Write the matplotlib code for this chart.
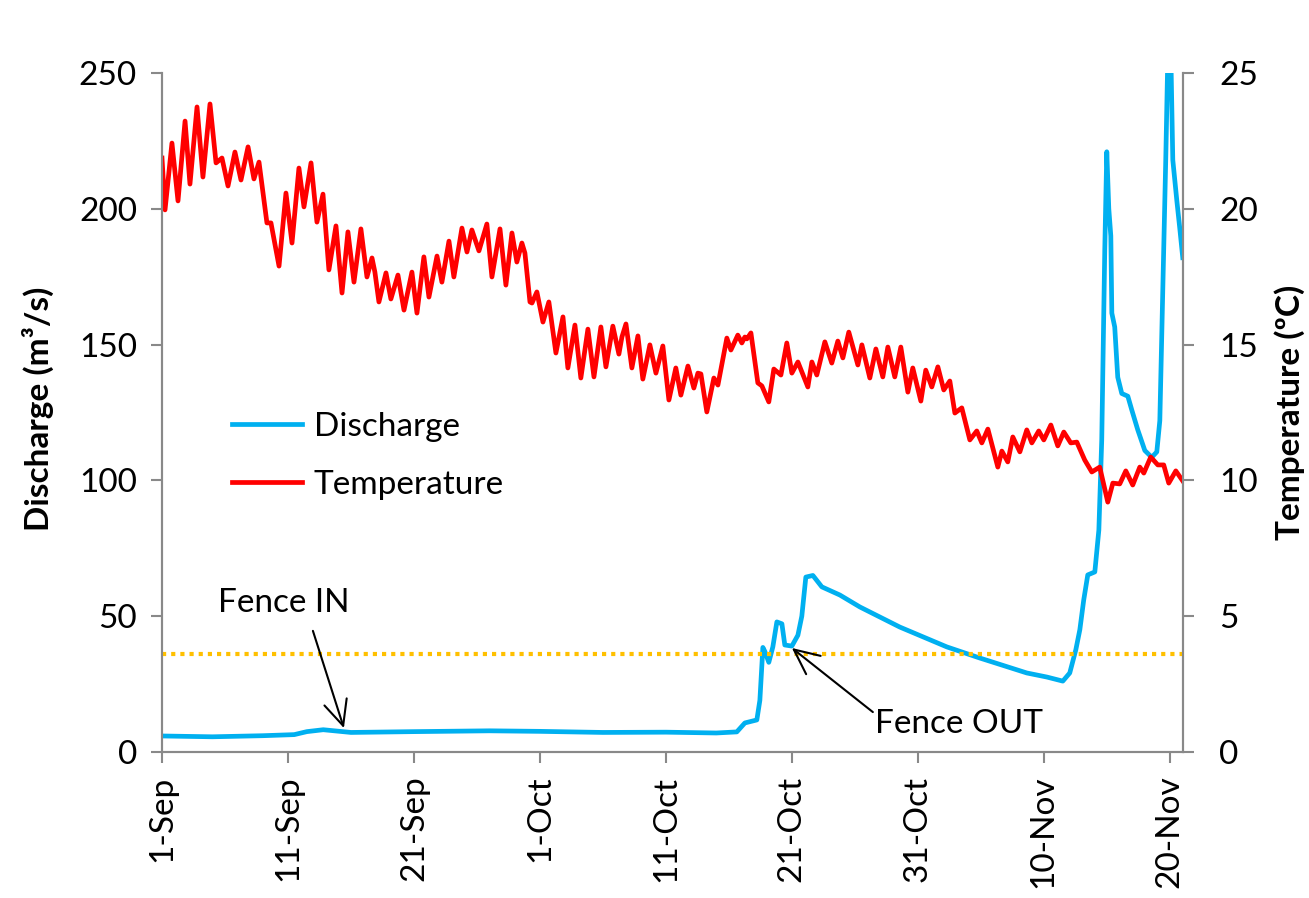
import matplotlib
matplotlib.use('Agg')
import matplotlib.pyplot as plt

# ---------------- data ----------------
tick_days = [0, 10, 20, 30, 40, 50, 60, 70, 80]
tick_labels = ['1-Sep', '11-Sep', '21-Sep', '1-Oct', '11-Oct', '21-Oct', '31-Oct', '10-Nov', '20-Nov']

# Temperature (deg C), days since 1-Sep
temp_day = [0.0, 0.24, 0.79, 1.27, 1.83, 2.22, 2.78, 3.25, 3.81, 4.29, 4.76, 5.24, 5.79, 6.27, 6.83,
            7.30, 7.70, 8.33, 8.65, 9.29, 9.84, 10.32, 10.87, 11.27, 11.83, 12.30, 12.78, 13.25, 13.81,
            14.29, 14.76, 15.24, 15.79, 16.27, 16.67, 16.90, 17.22, 17.78, 18.17, 18.73, 19.21, 19.84,
            20.24, 20.79, 21.19, 21.83, 22.22, 22.78, 23.17, 23.81, 24.21, 24.60, 25.16, 25.79, 26.19,
            26.83, 27.30, 27.78, 28.17, 28.57, 28.81, 29.21, 29.37, 29.76, 30.24, 30.71, 31.27, 31.83,
            32.22, 32.78, 33.25, 33.81, 34.29, 34.84, 35.24, 35.79, 36.27, 36.51, 36.83, 37.30, 37.78,
            38.17, 38.73, 39.21, 39.76, 40.24, 40.79, 41.19, 41.75, 42.22, 42.54, 42.78, 43.25, 43.81,
            44.13, 44.84, 45.16, 45.71, 46.03, 46.27, 46.43, 46.75, 47.30, 47.62, 48.17, 48.57, 49.13,
            49.60, 50.00, 50.48, 51.27, 51.59, 51.98, 52.62, 53.17, 53.65, 54.05, 54.52, 55.24, 55.56,
            56.19, 56.67, 57.22, 57.62, 58.17, 58.65, 59.21, 59.60, 60.24, 60.63, 61.11, 61.59, 62.06,
            62.54, 62.94, 63.49, 64.13, 64.68, 65.08, 65.56, 66.35, 66.67, 67.14, 67.54, 68.10, 68.65,
            69.05, 69.60, 70.00, 70.56, 71.11, 71.59, 72.14, 72.62, 73.25, 73.81, 74.44, 75.08, 75.48,
            76.03, 76.51, 77.06, 77.62, 77.94, 78.49, 79.05, 79.52, 79.92, 80.48, 81.03]
temp_val = [21.87, 19.96, 22.42, 20.29, 23.23, 20.91, 23.75, 21.17, 23.86, 21.69, 21.87, 20.84, 22.09,
            21.06, 22.28, 21.10, 21.72, 19.48, 19.48, 17.89, 20.58, 18.74, 21.50, 20.07, 21.69, 19.51,
            20.54, 17.75, 19.37, 16.90, 19.15, 17.30, 19.26, 17.49, 18.19, 17.67, 16.57, 17.64, 16.68,
            17.56, 16.27, 17.67, 16.16, 18.23, 16.75, 18.26, 17.30, 18.81, 17.49, 19.29, 18.41, 19.22,
            18.45, 19.44, 17.49, 19.26, 17.19, 19.11, 18.04, 18.74, 18.37, 16.57, 16.53, 16.94, 15.83,
            16.57, 14.69, 16.02, 14.14, 15.72, 13.77, 15.57, 13.81, 15.65, 14.18, 15.68, 14.65, 15.28,
            15.76, 14.14, 15.32, 13.73, 14.99, 13.95, 14.95, 12.96, 14.14, 13.14, 14.21, 13.40, 13.95,
            13.92, 12.52, 13.77, 13.51, 15.24, 14.80, 15.35, 15.06, 15.28, 15.21, 15.43, 13.59, 13.48,
            12.89, 14.10, 13.88, 15.06, 13.95, 14.36, 13.44, 14.36, 13.88, 15.10, 14.32, 15.13, 14.51,
            15.46, 14.25, 14.99, 13.77, 14.84, 13.81, 14.91, 13.81, 14.91, 13.25, 14.14, 12.92, 14.06,
            13.44, 14.18, 13.33, 13.66, 12.48, 12.67, 11.49, 11.82, 11.38, 11.89, 10.49, 11.08, 10.68,
            11.60, 11.05, 11.86, 11.38, 11.82, 11.49, 12.04, 11.27, 11.78, 11.38, 11.41, 10.75, 10.31,
            10.49, 9.20, 9.90, 9.87, 10.35, 9.83, 10.49, 10.27, 10.86, 10.57, 10.57, 9.90, 10.35, 9.98]

# Discharge (m3/s), days since 1-Sep
q_day = [0.0, 4.0, 8.0, 10.5, 11.5, 12.8, 15.0, 20.0, 26.0, 30.0, 35.0, 40.0, 44.0, 45.63, 46.27,
         47.22, 47.46, 47.70, 47.86, 48.17, 48.49, 48.81, 49.21, 49.44, 50.00, 50.48, 50.79, 51.11,
         51.67, 52.38, 53.81, 55.40, 58.57, 62.30, 64.92, 68.65, 70.24, 71.51, 72.06, 72.54, 72.86,
         73.17, 73.49, 74.05, 74.37, 74.60, 74.84, 75.00, 75.16, 75.32, 75.40, 75.63, 75.87, 76.19,
         76.67, 76.98, 77.46, 78.02, 78.57, 78.97, 79.21, 79.44, 79.68, 79.84, 80.08, 80.24, 80.56,
         80.79, 81.03]
q_val = [5.9, 5.6, 6.0, 6.4, 7.5, 8.2, 7.2, 7.5, 7.8, 7.6, 7.2, 7.3, 7.0, 7.4, 10.7,
         11.8, 19.0, 38.5, 37.0, 33.0, 38.7, 47.9, 47.2, 39.4, 39.0, 43.0, 50.0, 64.4,
         65.0, 60.8, 57.8, 53.4, 46.0, 38.7, 34.6, 29.1, 27.6, 26.1, 29.1, 37.6, 45.0,
         56.0, 65.2, 66.3, 81.7, 115.0, 185.0, 221.0, 200.0, 190.0, 161.6, 156.5, 138.0, 132.0,
         131.0, 126.0, 118.6, 111.0, 108.5, 110.5, 122.0, 169.0, 218.0, 255.0, 258.0, 218.0, 203.0,
         193.0, 182.0]

threshold = 36.0

# ---------------- plot ----------------
plt.rcParams['font.family'] = ['Lato', 'DejaVu Sans']
FS = 24
GRAY = '#898989'

fig = plt.figure(figsize=(13.09, 8.98), dpi=100)
ax = fig.add_axes([162/1309, 1-752/898, (1183-162)/1309, (752-73)/898])
ax2 = ax.twinx()

l1, = ax.plot(q_day, q_val, color='#00B0F0', lw=3.4, solid_joinstyle='round', label='Discharge', zorder=2)
ax.axhline(threshold, color='#FFC000', lw=3, ls=(0, (1, 1.2)), zorder=3)
l2, = ax2.plot(temp_day, temp_val, color='#FF0000', lw=3.4, solid_joinstyle='round', label='Temperature')

ax.set_xlim(0, 81.05)
ax.set_ylim(0, 250)
ax2.set_ylim(0, 25)
ax.set_yticks([0, 50, 100, 150, 200, 250])
ax2.set_yticks([0, 5, 10, 15, 20, 25])
ax.set_xticks(tick_days)
ax.set_xticklabels(tick_labels, rotation=90)

for a in (ax, ax2):
    a.spines['top'].set_visible(False)
    for s in ('left', 'right', 'bottom'):
        a.spines[s].set_color(GRAY)
        a.spines[s].set_linewidth(1.5)
    a.tick_params(colors=GRAY, labelcolor='black', labelsize=FS, width=1.5, length=8, direction='out')

ax.tick_params(axis='y', pad=10)
ax.tick_params(axis='x', pad=9)
ax2.tick_params(axis='y', pad=18)

fig.text(38/1309, 1-409/898, 'Discharge (m³/s)', rotation=90, ha='center', va='center',
         fontsize=FS, fontweight='bold')
fig.text(1290/1309, 1-412/898, 'Temperature (ºC)', rotation=90, ha='center', va='center',
         fontsize=FS, fontweight='bold')

ax2.legend(handles=[l1, l2], loc='center left', bbox_to_anchor=(0.0686, 0.436), frameon=False,
           fontsize=FS, handlelength=2.1, handletextpad=0.35, labelspacing=0.85,
           borderpad=0, borderaxespad=0)

arrow = dict(arrowstyle='->,head_length=0.75,head_width=0.35', lw=1.5, color='black',
             shrinkA=0, shrinkB=0, mutation_scale=24)
ax.text(4.44, 51.5, 'Fence IN', fontsize=FS, ha='left', va='baseline')
ax.annotate('', xy=(14.44, 8.8), xytext=(11.98, 44.6), arrowprops=arrow, zorder=5)
ax.text(56.59, 7.0, 'Fence OUT', fontsize=FS, ha='left', va='baseline')
ax.annotate('', xy=(50.0, 38.3), xytext=(56.43, 14.7), arrowprops=arrow, zorder=5)

fig.savefig('out.png', dpi=100)
